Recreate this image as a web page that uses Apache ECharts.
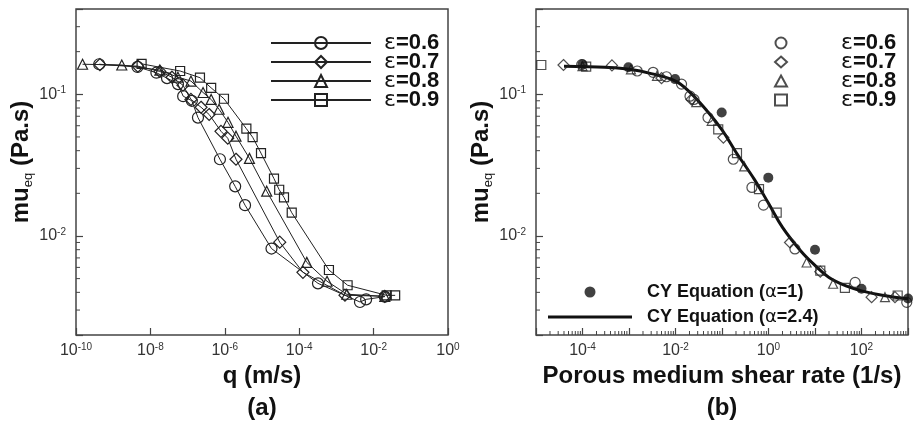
<!DOCTYPE html>
<html><head><meta charset="utf-8">
<script src="https://cdn.jsdelivr.net/npm/echarts@6/dist/echarts.min.js"></script>
<style>html,body{margin:0;padding:0;background:#fff}#c{width:914px;height:426px}</style>
</head><body><div id="c"></div>
<script>
// ---------- Panel (a): mu_eq vs q ----------
const qA06 = [4.2e-10, 4.5e-9, 1.45e-8, 2.8e-8, 5.5e-8, 7.6e-8, 1.3e-7, 1.9e-7, 7.4e-7, 1.9e-6, 3.5e-6, 1.8e-5, 3.2e-4, 4.3e-3, 6.3e-3, 2.0e-2];
const muA06 = [0.163, 0.156, 0.142, 0.130, 0.118, 0.097, 0.090, 0.0685, 0.0348, 0.0224, 0.0165, 0.00815, 0.00463, 0.00342, 0.00357, 0.00373];
const qA07 = [4.4e-10, 4.6e-9, 1.8e-8, 3.8e-8, 7.5e-8, 1.23e-7, 2.3e-7, 3.8e-7, 7.9e-7, 1.2e-6, 2.0e-6, 3.0e-5, 1.26e-4, 1.7e-3, 2.0e-2];
const muA07 = [0.162, 0.158, 0.145, 0.132, 0.116, 0.092, 0.081, 0.072, 0.0548, 0.049, 0.0348, 0.00904, 0.00554, 0.00382, 0.00375];
const qA08 = [1.5e-10, 1.7e-9, 1.8e-8, 5.5e-8, 1.23e-7, 2.6e-7, 4.3e-7, 7.0e-7, 1.22e-6, 2.0e-6, 4.6e-6, 1.34e-5, 1.6e-4, 5.6e-4, 1.9e-3, 2.0e-2];
const muA08 = [0.163, 0.161, 0.148, 0.132, 0.124, 0.103, 0.092, 0.0784, 0.0634, 0.0506, 0.0353, 0.0207, 0.00651, 0.00479, 0.00388, 0.00375];
const qA09 = [5.8e-9, 6.3e-8, 2.15e-7, 4.3e-7, 9.5e-7, 3.8e-6, 5.6e-6, 9.4e-6, 2.1e-5, 2.9e-5, 3.9e-5, 6.3e-5, 6.3e-4, 2.0e-3, 2.25e-2, 3.8e-2];
const muA09 = [0.164, 0.146, 0.131, 0.111, 0.093, 0.0572, 0.0498, 0.0384, 0.0254, 0.0212, 0.0187, 0.0146, 0.00575, 0.00449, 0.00381, 0.00381];

// ---------- Panel (b): mu_eq vs porous medium shear rate ----------
const rB06 = [9.6e-5, 1.5e-3, 3.3e-3, 6.4e-3, 1.35e-2, 2.05e-2, 2.5e-2, 5e-2, 0.175, 0.44, 0.78, 3.7, 73, 940];
const muB06 = [0.162, 0.146, 0.143, 0.133, 0.118, 0.097, 0.092, 0.0685, 0.0348, 0.022, 0.0165, 0.0081, 0.0047, 0.0034];
const rB07 = [3.9e-5, 4.3e-4, 5e-3, 2.2e-2, 0.107, 2.9, 13, 165, 525];
const muB07 = [0.161, 0.160, 0.130, 0.092, 0.0495, 0.009, 0.0056, 0.0037, 0.0037];
const rB08 = [1e-4, 1.1e-3, 4e-3, 2.8e-2, 0.06, 0.3, 6.6, 24.5, 320];
const muB08 = [0.158, 0.150, 0.135, 0.088, 0.065, 0.031, 0.0065, 0.0046, 0.0037];
const rB09 = [1.3e-5, 1.2e-4, 8.3e-2, 0.21, 0.625, 1.5, 13, 44, 600];
const muB09 = [0.161, 0.157, 0.0566, 0.0384, 0.0214, 0.0146, 0.0057, 0.0043, 0.0038];
const rCY1 = [1e-4, 9.7e-4, 9.8e-3, 0.0985, 0.99, 10, 100, 1000];
const muCY1 = [0.163, 0.155, 0.128, 0.0743, 0.0258, 0.008, 0.00424, 0.00362];
const rCY24 = [4e-5, 1e-4, 3e-4, 1e-3, 3e-3, 1e-2, 2e-2, 5e-2, 0.1, 0.2, 0.5, 1, 2, 5, 10, 20, 50, 100, 300, 1000];
const muCY24 = [0.158, 0.157, 0.155, 0.150, 0.140, 0.124, 0.104, 0.075, 0.056, 0.039, 0.025, 0.017, 0.0115, 0.0078, 0.0062, 0.0051, 0.0044, 0.0041, 0.0038, 0.0036];

// ---------- axes ----------
const Y_MIN = 0.002, Y_MAX = 0.4;
const XA_MIN = 1e-10, XA_MAX = 1;
const XB_MIN = 1e-5, XB_MAX = 1e3;
const minorMult = [2, 3, 4, 5, 6, 7, 8, 9];
const seriesNames = ['ε=0.6', 'ε=0.7', 'ε=0.8', 'ε=0.9'];
const cyNames = ['CY Equation (α=1)', 'CY Equation (α=2.4)'];

const L = Math.log10;
const pairs = (xs, ys) => xs.map((x, i) => [L(x), L(ys[i])]);
const isInt = v => Math.abs(v - Math.round(v)) < 1e-9;
const FONT = 'Liberation Sans';
const tickRich = {
  b: {fontSize: 16, fontFamily: FONT, color: '#333', lineHeight: 18},
  s: {fontSize: 10, fontFamily: FONT, color: '#333', lineHeight: 10, verticalAlign: 'top'}
};
const supLabel = v => '{b|10}{s|' + Math.round(v) + '}';

function minorVals(lo, hi) {
  const out = [];
  for (let k = Math.floor(L(lo)); k < Math.ceil(L(hi)); k++) {
    minorMult.forEach(m => { const v = m * Math.pow(10, k); if (v > lo * 1.0001 && v < hi * 0.9999) out.push(L(v)); });
  }
  return out;
}

function yAxisCfg(gi) {
  return {
    type: 'value', gridIndex: gi, min: L(Y_MIN), max: L(Y_MAX), minInterval: 1, maxInterval: 1,
    axisLine: {show: false, onZero: false}, splitLine: {show: false},
    axisTick: {inside: true, length: 7, lineStyle: {color: '#444', width: 1.2}},
    axisLabel: {formatter: v => isInt(v) ? supLabel(v) : '', margin: 10, rich: tickRich},
    name: '{m|mu}{s|eq}{m| (Pa.s)}', nameLocation: 'middle', nameRotate: 90, nameGap: 36,
    nameTextStyle: {padding: [0, 0, 0, 20], rich: {
      m: {fontSize: 24, fontWeight: 'bold', fontFamily: FONT, color: '#111', lineHeight: 28},
      s: {fontSize: 13, fontFamily: FONT, color: '#111', lineHeight: 12, verticalAlign: 'bottom'}
    }}
  };
}

function tickSeries(ai, dir, vals, fixed, len) {
  return {
    type: 'custom', xAxisIndex: ai, yAxisIndex: ai, silent: true, z: 5, clip: false,
    data: vals.map(v => dir === 'y' ? [fixed, v] : [v, fixed]),
    renderItem: (params, api) => {
      const p = api.coord([api.value(0), api.value(1)]);
      const shape = dir === 'y' ? {x1: p[0], y1: p[1], x2: p[0] + len, y2: p[1]}
                                : {x1: p[0], y1: p[1], x2: p[0], y2: p[1] - len};
      return {type: 'line', shape, style: {stroke: '#444', lineWidth: 1}};
    }
  };
}

const symbols = ['circle', 'diamond', 'triangle', 'rect'];
const symA = [11, 12, 10, 9];
const symB = [10, 11, 9, 9];
const hollow = {color: 'rgba(255,255,255,0)', borderColor: '#222', borderWidth: 1.2};

const dataA = [pairs(qA06, muA06), pairs(qA07, muA07), pairs(qA08, muA08), pairs(qA09, muA09)];
const dataB = [pairs(rB06, muB06), pairs(rB07, muB07), pairs(rB08, muB08), pairs(rB09, muB09)];

const series = [];
dataA.forEach((d, i) => series.push({
  name: seriesNames[i], type: 'line', xAxisIndex: 0, yAxisIndex: 0, data: d,
  symbol: symbols[i], symbolSize: symA[i], lineStyle: {color: '#222', width: 1},
  itemStyle: hollow, z: 3
}));
series.push({
  name: cyNames[1], type: 'line', xAxisIndex: 1, yAxisIndex: 1, data: pairs(rCY24, muCY24),
  symbol: 'none', smooth: 0.4, lineStyle: {color: '#111', width: 3}, itemStyle: {color: '#111'}, z: 2
});
dataB.forEach((d, i) => series.push({
  name: 'b:' + seriesNames[i], type: 'scatter', xAxisIndex: 1, yAxisIndex: 1, data: d,
  symbol: symbols[i], symbolSize: symB[i], itemStyle: hollow, z: 3
}));
series.push({
  name: cyNames[0], type: 'scatter', xAxisIndex: 1, yAxisIndex: 1, data: pairs(rCY1, muCY1),
  symbol: 'circle', symbolSize: 10, itemStyle: {color: '#111'}, z: 4
});
// minor ticks
const yMinor = minorVals(Y_MIN, Y_MAX);
series.push(tickSeries(0, 'y', yMinor, L(XA_MIN), 4));
series.push(tickSeries(1, 'y', yMinor, L(XB_MIN), 4));
series.push(tickSeries(1, 'x', minorVals(XB_MIN, XB_MAX), L(Y_MIN), 4));

const epsFmt = n => '{e|ε}{b|' + n.replace('b:', '').slice(1) + '}';
const epsRich = {
  e: {fontSize: 22, fontFamily: 'DejaVu Sans', color: '#111', lineHeight: 19},
  b: {fontSize: 22, fontWeight: 'bold', fontFamily: FONT, color: '#111', lineHeight: 19}
};

const option = {
  animation: false,
  backgroundColor: '#fff',
  grid: [
    {left: 76, top: 9, width: 372, height: 326, show: true, borderColor: '#444', borderWidth: 1.5},
    {left: 536, top: 9, width: 372, height: 326, show: true, borderColor: '#444', borderWidth: 1.5}
  ],
  xAxis: [
    {type: 'value', gridIndex: 0, min: L(XA_MIN), max: L(XA_MAX), interval: 2,
     axisLine: {show: false, onZero: false}, splitLine: {show: false},
     axisTick: {inside: true, length: 7, lineStyle: {color: '#444', width: 1.2}},
     axisLabel: {formatter: v => supLabel(v), margin: 7, rich: tickRich},
     name: 'q (m/s)', nameLocation: 'middle', nameGap: 27,
     nameTextStyle: {fontSize: 24, fontWeight: 'bold', fontFamily: FONT, color: '#111'}},
    {type: 'value', gridIndex: 1, min: L(XB_MIN), max: L(XB_MAX), interval: 1,
     axisLine: {show: false, onZero: false}, splitLine: {show: false},
     axisTick: {inside: true, length: 7, lineStyle: {color: '#444', width: 1.2}},
     axisLabel: {formatter: v => (isInt(v) && Math.abs(Math.round(v)) % 2 === 0) ? supLabel(v) : '', margin: 7, rich: tickRich},
     name: 'Porous medium shear rate (1/s)', nameLocation: 'middle', nameGap: 27,
     nameTextStyle: {fontSize: 24, fontWeight: 'bold', fontFamily: FONT, color: '#111'}}
  ],
  yAxis: [yAxisCfg(0), yAxisCfg(1)],
  legend: [
    {orient: 'vertical', left: 270, top: 32, padding: 0, itemWidth: 100, itemHeight: 15, itemGap: -3,
     selectedMode: false, data: seriesNames, formatter: epsFmt,
     textStyle: {fontSize: 22, lineHeight: 19, padding: [0, 0, 0, 8], rich: epsRich}},
    {orient: 'vertical', left: 774, top: 32, padding: 0, itemWidth: 12, itemHeight: 11, itemGap: -3,
     selectedMode: false, data: seriesNames.map(n => 'b:' + n), formatter: epsFmt, symbolKeepAspect: true,
     textStyle: {fontSize: 22, lineHeight: 19, padding: [0, 0, 0, 49], rich: epsRich}},
    {orient: 'vertical', left: 548, top: 281, padding: 0, itemWidth: 84, itemHeight: 11, itemGap: 3,
     selectedMode: false, symbolKeepAspect: true,
     data: [{name: cyNames[0]}, {name: cyNames[1], icon: 'path://M0,0L84,0L84,3L0,3Z'}],
     formatter: n => n.replace(/^(.*\()α(=.*)$/, '{b|$1}{a|α}{b|$2}'),
     textStyle: {fontSize: 18, lineHeight: 22, padding: [0, 0, 0, 10], rich: {
       b: {fontSize: 18, fontWeight: 'bold', fontFamily: FONT, color: '#111', lineHeight: 22},
       a: {fontSize: 18, fontFamily: 'DejaVu Sans', color: '#111', lineHeight: 22}
     }}}
  ],
  graphic: [
    {type: 'text', x: 262, y: 408, style: {text: '(a)', textAlign: 'center', textVerticalAlign: 'middle', font: 'bold 24px "Liberation Sans"', fill: '#111'}},
    {type: 'text', x: 722, y: 408, style: {text: '(b)', textAlign: 'center', textVerticalAlign: 'middle', font: 'bold 24px "Liberation Sans"', fill: '#111'}}
  ],
  series
};
const chart = echarts.init(document.getElementById('c'));
chart.setOption(option);
</script>
</body></html>
